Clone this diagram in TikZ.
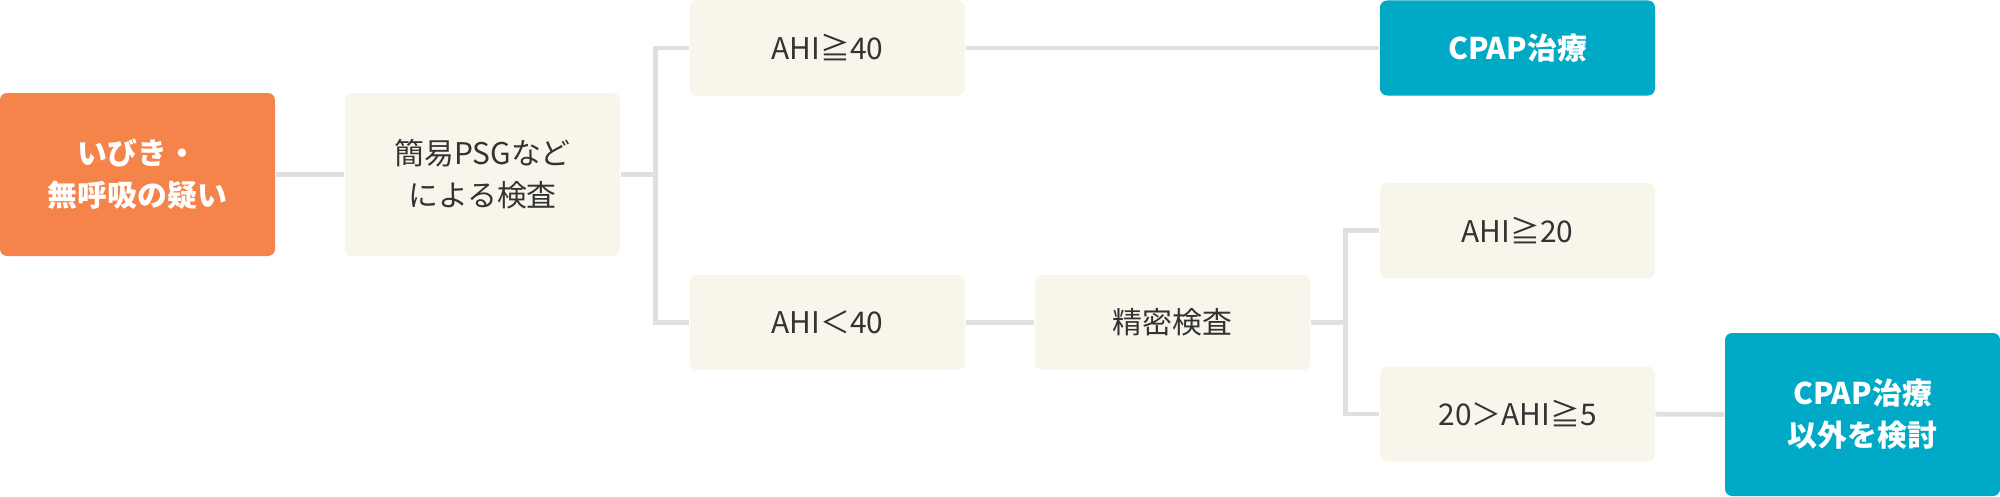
\documentclass[tikz,border=0pt]{standalone}
\usepackage{fontspec}
\setmainfont{Noto Sans CJK JP}
\usetikzlibrary{positioning}
\definecolor{boxcream}{HTML}{F8F5EA}
\definecolor{orangebox}{HTML}{F5844A}
\definecolor{tealbox}{HTML}{00AAC6}
\definecolor{linkgray}{HTML}{E0E0E0}
\definecolor{textdark}{HTML}{333333}

\begin{document}
\begin{tikzpicture}[
    every node/.style={font=\fontsize{8.5}{12}\selectfont},
    stepbox/.style={rectangle, rounded corners=0.07cm, minimum width=2.75cm, minimum height=0.95cm, fill=boxcream, text=textdark, align=center},
    tallbox/.style={stepbox, minimum height=1.63cm},
    startbox/.style={tallbox, fill=orangebox, text=white, font=\fontsize{8.5}{12}\selectfont\bfseries},
    endbox/.style={stepbox, fill=tealbox, text=white, font=\fontsize{8.5}{12}\selectfont\bfseries},
    link/.style={draw=linkgray, line width=1.4pt}
]
    \useasboundingbox (0,0) rectangle (20,4.96);

    % Main boxes
    \node[startbox] (susp) at (1.375,3.215) {いびき・\\無呼吸の疑い};
    \node[tallbox] (psg) at (4.825,3.215) {簡易PSGなど\\による検査};
    \node[stepbox] (ge40) at (8.275,4.48) {AHI≧40};
    \node[endbox] (cpap) at (15.175,4.48) {CPAP治療};
    \node[stepbox] (lt40) at (8.275,1.735) {AHI＜40};
    \node[stepbox] (detail) at (11.725,1.735) {精密検査};
    \node[stepbox] (ge20) at (15.175,2.655) {AHI≧20};
    \node[stepbox] (mid) at (15.175,0.82) {20＞AHI≧5};
    \node[tallbox, fill=tealbox, text=white, font=\fontsize{8.5}{12}\selectfont\bfseries] (other) at (18.625,0.815) {CPAP治療\\以外を検討};

    % Connectors
    \draw[link] (susp) -- (psg);
    \draw[link] (psg.east) -- ++(0.35,0) coordinate (split1);
    \draw[link] (split1) |- (ge40);
    \draw[link] (split1) |- (lt40);
    \draw[link] (ge40) -- (cpap);
    \draw[link] (lt40) -- (detail);
    \draw[link] (detail.east) -- ++(0.35,0) coordinate (split2);
    \draw[link] (split2) |- (ge20);
    \draw[link] (split2) |- (mid);
    \draw[link] (mid) -- (other);
\end{tikzpicture}
\end{document}
